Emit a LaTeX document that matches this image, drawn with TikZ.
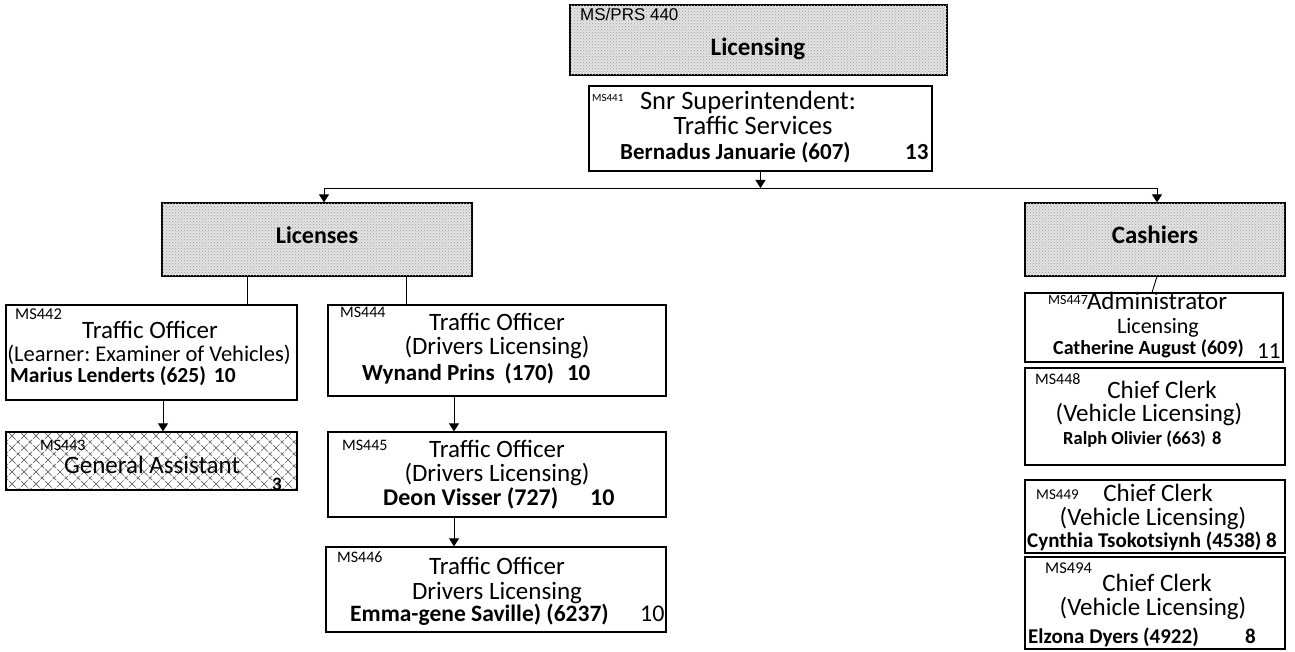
\documentclass[tikz,border=0pt]{standalone}
\usepackage{fontspec}
\setmainfont{Carlito}
\newfontfamily\arialf{Liberation Sans}
\usetikzlibrary{arrows.meta,patterns,patterns.meta,fit}
\newcommand\fsz[1]{\fontsize{#1}{#1}\selectfont}
\AtBeginDocument{\frenchspacing}
\tikzdeclarepattern{
  name=diaggrid,
  type=uncolored,
  bounding box={(-1pt,-1pt) and (13pt,13pt)},
  tile size={(12pt,12pt)},
  code={
    \draw[line width=0.7pt, dash pattern=on 5pt off 1.5pt] (0pt,0pt) -- (12pt,12pt);
    \draw[line width=0.7pt, dash pattern=on 5pt off 1.5pt] (0pt,12pt) -- (12pt,0pt);
  }
}
\begin{document}
\begin{tikzpicture}[x=1pt,y=-1pt,
  box/.style={draw, line width=1.2pt, inner sep=0pt},
  hdr/.style={box, fill=gray!22, postaction={pattern=crosshatch dots, pattern color=gray!75}},
  hatch/.style={box, pattern=diaggrid, pattern color=black!60},
  t/.style={inner sep=0pt, anchor=mid, font=\fsz{25}},
  nm/.style={inner sep=0pt, anchor=mid west, font=\bfseries\fsz{21}},
  lbl/.style={inner sep=0pt, anchor=mid west, font=\fsz{16}},
  hd/.style={inner sep=0pt, anchor=mid, font=\bfseries\fsz{25}},
  arr/.style={line width=0.9pt, -{Triangle[width=10pt,length=8pt]}},
  ln/.style={line width=0.9pt}]
\fill[white] (0,0) rectangle (1295,652);
\useasboundingbox (0,0) rectangle (1295,652);

% boxes
\node[hdr, fit={(570,5) (947,75)}] (licensing) {};
\node[box, fit={(589,86) (932,171)}] (m441) {};
\node[hdr, fit={(162,203) (472,276)}] (licenses) {};
\node[hdr, fit={(1025,203) (1285,276)}] (cashiers) {};
\node[box, fit={(6,305) (297,400)}] (m442) {};
\node[hatch, fit={(6,432) (297,490)}] (m443) {};
\node[box, fit={(328,305) (666,396)}] (m444) {};
\node[box, fit={(328,432) (666,517)}] (m445) {};
\node[box, fit={(326,547) (666,632)}] (m446) {};
\node[box, fit={(1025,293) (1283,362)}] (m447) {};
\node[box, fit={(1025,368) (1285,465)}] (m448) {};
\node[box, fit={(1025,480) (1285,553)}] (m449) {};
\node[box, fit={(1025,557) (1285,649)}] (m494) {};

% header texts
\node[inner sep=0pt, anchor=mid west, font=\arialf\fsz{17}] (t440a) at (580,18) {MS/PRS 440};
\node[hd] (t440b) at (758,53) {Licensing};
\node[hd, font=\bfseries\fsz{24}] (tlic) at (317,241) {Licenses};
\node[hd] (tcash) at (1155,241) {Cashiers};

% MS441
\node[lbl, font=\fsz{11}] (t441a) at (592,99) {MS441};
\node[t, font=\fsz{26.5}] (t441b) at (748,107) {Snr Superintendent:};
\node[t, font=\fsz{26.5}] (t441c) at (753,132) {Traffic Services};
\node[nm, font=\bfseries\fsz{23}] (t441d) at (620,157) {Bernadus Januarie (607)};
\node[nm, font=\bfseries\fsz{23}] (t441e) at (905,157) {13};

% MS442
\node[lbl, font=\fsz{16.5}] (t442a) at (15,317) {MS442};
\node[t] (t442b) at (150,336) {Traffic Officer};
\node[t, font=\fsz{22.5}] (t442c) at (149,359) {(Learner: Examiner of Vehicles)};
\node[nm, font=\bfseries\fsz{21.5}] (t442d) at (10,380) {Marius Lenderts (625)\hspace{8pt}10};

% MS443
\node[lbl] (t443a) at (40,448) {MS443};
\node[t] (t443b) at (152,471) {General Assistant};
\node[nm, font=\bfseries\fsz{19}] (t443c) at (272,488) {3};

% MS444
\node[lbl] (t444a) at (340,315) {MS444};
\node[t] (t444b) at (497,328) {Traffic Officer};
\node[t] (t444c) at (497,352) {(Drivers Licensing)};
\node[nm, font=\bfseries\fsz{23}] (t444d) at (362,378) {Wynand Prins\hspace{10pt}(170)\hspace{13pt}10};

% MS445
\node[lbl] (t445a) at (342,448) {MS445};
\node[t] (t445b) at (497,455) {Traffic Officer};
\node[t] (t445c) at (497,479) {(Drivers Licensing)};
\node[nm, font=\bfseries\fsz{24}] (t445d) at (383,503) {Deon Visser (727)};
\node[nm, font=\bfseries\fsz{24}] (t445e) at (590,503) {10};

% MS446
\node[lbl] (t446a) at (337,560) {MS446};
\node[t] (t446b) at (497,572) {Traffic Officer};
\node[t] (t446c) at (497,597) {Drivers Licensing};
\node[nm, font=\bfseries\fsz{23.5}] (t446d) at (350,619) {Emma-gene Saville) (6237)};
\node[inner sep=0pt, anchor=mid west, font=\fsz{24}] (t446e) at (640,619) {10};

% MS447
\node[lbl, font=\fsz{14}] (t447a) at (1048,302) {MS447};
\node[t] (t447b) at (1157,307) {Administrator};
\node[t, font=\fsz{22}] (t447c) at (1158,331) {Licensing};
\node[nm, font=\bfseries\fsz{20}] (t447d) at (1053,352) {Catherine August (609)};
\node[inner sep=0pt, anchor=mid west, font=\fsz{23}] (t447e) at (1257,356) {11};

% MS448
\node[lbl] (t448a) at (1035,382) {MS448};
\node[t] (t448b) at (1162,396) {Chief Clerk};
\node[t] (t448c) at (1149,419) {(Vehicle Licensing)};
\node[nm, font=\bfseries\fsz{18.5}] (t448d) at (1063,442) {Ralph Olivier (663)\hspace{6pt}8};

% MS449
\node[lbl, font=\fsz{15}] (t449a) at (1036,497) {MS449};
\node[t] (t449b) at (1158,499) {Chief Clerk};
\node[t] (t449c) at (1153,523) {(Vehicle Licensing)};
\node[nm] (t449d) at (1027,545) {Cynthia Tsokotsiynh (4538) 8};

% MS494
\node[lbl, font=\fsz{16.5}] (t494a) at (1045,571) {MS494};
\node[t] (t494b) at (1157,589) {Chief Clerk};
\node[t] (t494c) at (1153,613) {(Vehicle Licensing)};
\node[nm] (t494d) at (1028,641) {Elzona Dyers (4922)};
\node[nm] (t494e) at (1245,641) {8};

% connectors
\coordinate (j) at (760.5,188);
\coordinate (xa) at (247,0);
\coordinate (xb) at (406,0);
\coordinate (xc) at (1152,0);
\coordinate (xd) at (163,0);
\coordinate (xe) at (454,0);
\coordinate (xf) at (324,0);
\coordinate (xg) at (1157,0);
\draw[arr] (m441.south) -- (j);
\draw[arr] (j) -| (licenses.north -| xf);
\draw[arr] (j) -| (cashiers.north -| xg);
\draw[ln] (licenses.south -| xa) -- (m442.north -| xa);
\draw[ln] (licenses.south -| xb) -- (m444.north -| xb);
\draw[ln] (cashiers.south -| xg) -- (m447.north -| xc);
\draw[arr] (m442.south -| xd) -- (m443.north -| xd);
\draw[arr] (m444.south -| xe) -- (m445.north -| xe);
\draw[arr] (m445.south -| xe) -- (m446.north -| xe);
\end{tikzpicture}
\end{document}
